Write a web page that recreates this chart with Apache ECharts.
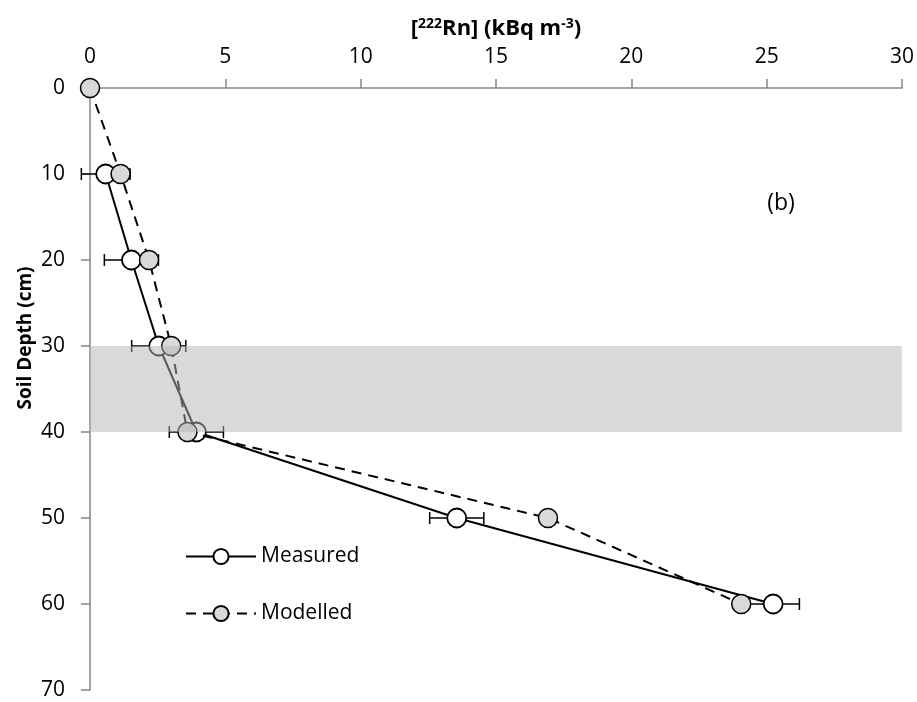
<!DOCTYPE html>
<html><head><meta charset="utf-8">
<script src="https://cdn.jsdelivr.net/npm/echarts@6/dist/echarts.min.js"></script>
<style>html,body{margin:0;padding:0;background:#fff}#c{width:917px;height:702px}</style>
</head><body><div id="c"></div>
<script>
var depthMeasured = [10, 20, 30, 40, 50, 60];
var measured = [0.58, 1.53, 2.54, 3.93, 13.55, 25.24];
var measuredErr = [0.9, 1.0, 1.0, 1.0, 1.0, 0.97];
var depthModelled = [0, 10, 20, 30, 40, 50, 60];
var modelled = [0, 1.13, 2.18, 3.0, 3.6, 16.92, 24.06];
var bandDepth = [30, 40];
var xTicks = [0, 5, 10, 15, 20, 25, 30];
var yTicks = [0, 10, 20, 30, 40, 50, 60, 70];

var FONT = '"Open Sans", Lato, sans-serif';
var chart = echarts.init(document.getElementById('c'), null, {renderer: 'canvas'});

var measData = depthMeasured.map(function (d, i) { return [measured[i], d]; });
var modData = depthModelled.map(function (d, i) { return [modelled[i], d]; });
var errData = depthMeasured.map(function (d, i) { return [measured[i], d, measuredErr[i]]; });
var bandData = [[xTicks[0], bandDepth[0], xTicks[xTicks.length - 1], bandDepth[1]]];

chart.setOption({
  animation: false,
  backgroundColor: '#fff',
  grid: {left: 90, right: 15, top: 88, bottom: 12},
  xAxis: {
    type: 'value', position: 'top', min: xTicks[0], max: xTicks[xTicks.length - 1], interval: 5,
    name: '[{sup|222}Rn] (kBq m{sup|-3})', nameLocation: 'middle', nameGap: 48,
    nameTextStyle: {fontFamily: FONT, fontWeight: 'bold', fontSize: 22, color: '#000',
      rich: {sup: {fontFamily: FONT, fontWeight: 'bold', fontSize: 14, padding: [0, 0, 9, 0], color: '#000'}}},
    axisLine: {show: true, lineStyle: {color: '#868686', width: 1.5}},
    axisTick: {show: true, length: 9, inside: false, lineStyle: {color: '#868686', width: 1.5}},
    axisLabel: {fontFamily: FONT, fontSize: 21, color: '#000', margin: 20},
    splitLine: {show: false}
  },
  yAxis: {
    type: 'value', inverse: true, min: yTicks[0], max: yTicks[yTicks.length - 1], interval: 10,
    axisLine: {show: true, lineStyle: {color: '#868686', width: 1.5}},
    axisTick: {show: true, length: 9, inside: false, lineStyle: {color: '#868686', width: 1.5}},
    axisLabel: {fontFamily: FONT, fontSize: 21, color: '#000', margin: 25},
    splitLine: {show: false}
  },
  legend: {
    data: ['Measured', 'Modelled'], orient: 'vertical', left: 180, top: 541,
    itemWidth: 70, itemHeight: 19, itemGap: 36,
    textStyle: {fontFamily: FONT, fontSize: 21, color: '#000'}
  },
  graphic: [
    {type: 'text', x: 26, y: 338, rotation: Math.PI / 2,
      style: {text: 'Soil Depth (cm)', font: 'bold 19px ' + FONT, fill: '#000', align: 'center', verticalAlign: 'middle'}},
    {type: 'text', x: 781, y: 203, style: {text: '(b)', font: '23px ' + FONT, fill: '#000', align: 'center', verticalAlign: 'middle'}}
  ],
  series: [
    {
      type: 'custom', name: 'err', z: 1, silent: true,
      data: errData,
      renderItem: function (params, api) {
        var x = api.value(0), y = api.value(1), e = api.value(2);
        var l = api.coord([x - e, y]), r = api.coord([x + e, y]);
        var h = 6;
        var st = {stroke: '#000', lineWidth: 1.5};
        return {type: 'group', children: [
          {type: 'line', shape: {x1: l[0], y1: l[1], x2: r[0], y2: r[1]}, style: st},
          {type: 'line', shape: {x1: l[0], y1: l[1] - h, x2: l[0], y2: l[1] + h}, style: st},
          {type: 'line', shape: {x1: r[0], y1: r[1] - h, x2: r[0], y2: r[1] + h}, style: st}
        ]};
      }
    },
    {
      type: 'line', name: 'Measured', z: 2, data: measData,
      symbol: 'circle', symbolSize: 19,
      itemStyle: {color: '#fff', borderColor: '#000', borderWidth: 1.8},
      lineStyle: {color: '#000', width: 2}
    },
    {
      type: 'line', name: 'Modelled', z: 3, data: modData,
      symbol: 'circle', symbolSize: 19,
      itemStyle: {color: '#d9d9d9', borderColor: '#000', borderWidth: 1.5},
      lineStyle: {color: '#000', width: 2, type: [10, 7]}
    },
    {
      type: 'custom', name: 'band', z: 10, silent: true,
      data: bandData,
      renderItem: function (params, api) {
        var p1 = api.coord([api.value(0), api.value(1)]);
        var p2 = api.coord([api.value(2), api.value(3)]);
        return {type: 'rect', shape: {x: p1[0], y: p1[1], width: p2[0] - p1[0], height: p2[1] - p1[1]},
          style: {fill: 'rgba(180,180,180,0.5)'}};
      }
    }
  ]
});
</script></body></html>
